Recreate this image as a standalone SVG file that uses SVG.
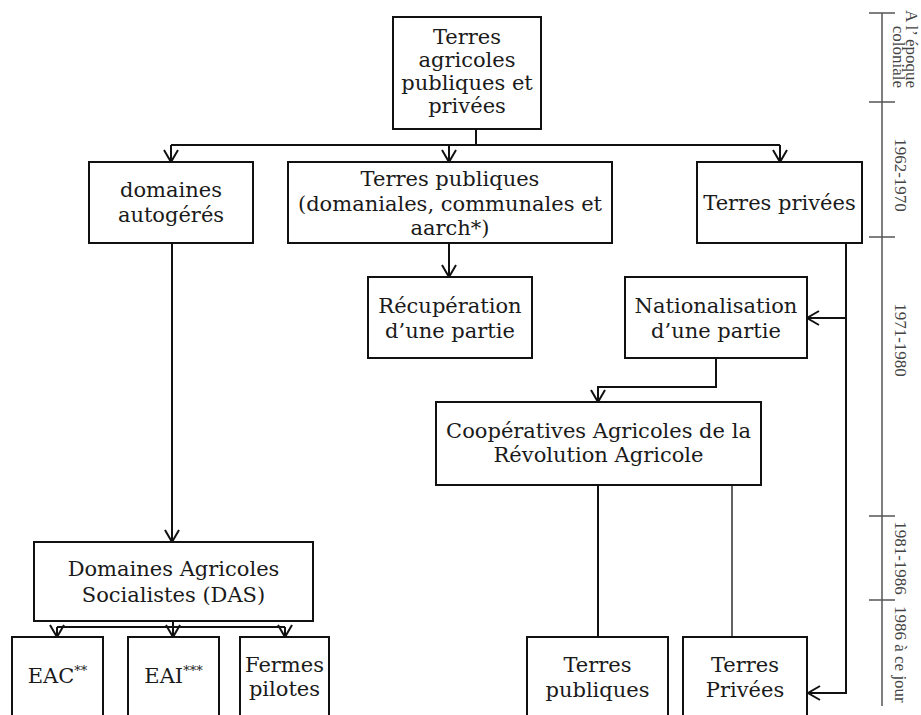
<svg xmlns="http://www.w3.org/2000/svg" width="921" height="715" viewBox="0 0 921 715">
<style>
.box{fill:#fff;stroke:#111;stroke-width:2}
.t{font-family:"DejaVu Serif","Liberation Serif",serif;font-size:21px;fill:#1a1a1a;text-anchor:middle}
.c{fill:none;stroke:#111;stroke-width:2}
.tl{fill:none;stroke:#555;stroke-width:1.5}
.lab{font-family:"Liberation Serif",serif;font-size:17px;fill:#444}
</style>
<defs>
<marker id="arr" markerUnits="userSpaceOnUse" markerWidth="16" markerHeight="16" viewBox="0 0 16 16" refX="14" refY="8" orient="auto">
<path d="M2,1 L14,8 L2,15" fill="none" stroke="#111" stroke-width="2"/>
</marker>
</defs>
<rect width="921" height="715" fill="#fff"/>
<g id="connectors">
<path class="c" d="M476,129 V145 M171,145 H780"/>
<path class="c" d="M171,145 V162" marker-end="url(#arr)"/>
<path class="c" d="M449,145 V162" marker-end="url(#arr)"/>
<path class="c" d="M780,145 V162" marker-end="url(#arr)"/>
<path class="c" d="M449,243 V277" marker-end="url(#arr)"/>
<path class="c" d="M846,243 V693 H808" marker-end="url(#arr)"/>
<path class="c" d="M846,318 H807" marker-end="url(#arr)"/>
<path class="c" d="M716,358 V387 H598 V402" marker-end="url(#arr)"/>
<path class="c" d="M598,485 V637"/>
<path class="c" d="M732,485 V637" style="stroke-width:1.3"/>
<path class="c" d="M172,243 V542" marker-end="url(#arr)"/>
<path class="c" d="M173,621 V627 M57,627 H285"/>
<path class="c" d="M57,627 V637" marker-end="url(#arr)"/>
<path class="c" d="M173,627 V637" marker-end="url(#arr)"/>
<path class="c" d="M285,627 V637" marker-end="url(#arr)"/>
</g>
<g id="n-top"><rect class="box" x="393" y="17" width="148" height="112"/>
<text class="t" x="467" y="44">Terres</text><text class="t" x="467" y="67">agricoles</text><text class="t" x="467" y="90">publiques et</text><text class="t" x="467" y="113">privées</text></g>
<g id="n-domaines"><rect class="box" x="89" y="162" width="164" height="81"/>
<text class="t" x="171" y="197">domaines</text><text class="t" x="171" y="222">autogérés</text></g>
<g id="n-publiques"><rect class="box" x="288" y="162" width="324" height="81"/>
<text class="t" x="450" y="186">Terres publiques</text><text class="t" x="450" y="211">(domaniales, communales et</text><text class="t" x="450" y="235">aarch*)</text></g>
<g id="n-privees"><rect class="box" x="697" y="162" width="165" height="81"/>
<text class="t" x="779.5" y="210">Terres privées</text></g>
<g id="n-recuperation"><rect class="box" x="368" y="277" width="164" height="81"/>
<text class="t" x="450" y="313">Récupération</text><text class="t" x="450" y="338">d’une partie</text></g>
<g id="n-nationalisation"><rect class="box" x="625" y="277" width="182" height="81"/>
<text class="t" x="716" y="313">Nationalisation</text><text class="t" x="716" y="338">d’une partie</text></g>
<g id="n-capra"><rect class="box" x="436" y="402" width="325" height="83"/>
<text class="t" x="598.5" y="438">Coopératives Agricoles de la</text><text class="t" x="598.5" y="462">Révolution Agricole</text></g>
<g id="n-das"><rect class="box" x="34" y="542" width="279" height="79"/>
<text class="t" x="173.5" y="576">Domaines Agricoles</text><text class="t" x="173.5" y="602">Socialistes (DAS)</text></g>
<g id="n-eac"><rect class="box" x="12" y="637" width="91" height="90"/>
<text class="t" x="57.5" y="683">EAC<tspan font-size="13" dy="-8">**</tspan></text></g>
<g id="n-eai"><rect class="box" x="128" y="637" width="91" height="90"/>
<text class="t" x="173.5" y="683">EAI<tspan font-size="13" dy="-8">***</tspan></text></g>
<g id="n-fermes"><rect class="box" x="240" y="637" width="89" height="90"/>
<text class="t" x="284.5" y="672">Fermes</text><text class="t" x="284.5" y="696">pilotes</text></g>
<g id="n-tpub"><rect class="box" x="527" y="637" width="141" height="90"/>
<text class="t" x="597.5" y="672">Terres</text><text class="t" x="597.5" y="697">publiques</text></g>
<g id="n-tpriv"><rect class="box" x="683" y="637" width="124" height="90"/>
<text class="t" x="745" y="672">Terres</text><text class="t" x="745" y="697">Privées</text></g>
<g id="timeline">
<path class="tl" d="M882,13 V706 M869,13 H895 M869,102 H895 M869,237 H895 M869,516 H895 M869,600 H895"/>
<text class="lab" text-anchor="end" transform="translate(906,88) rotate(90)">A l’ époque</text>
<text class="lab" text-anchor="end" transform="translate(893,88) rotate(90)">coloniale</text>
<text class="lab" text-anchor="middle" transform="translate(895,175) rotate(90)">1962-1970</text>
<text class="lab" text-anchor="middle" transform="translate(895,340) rotate(90)">1971-1980</text>
<text class="lab" text-anchor="middle" transform="translate(895,558) rotate(90)">1981-1986</text>
<text class="lab" text-anchor="start" transform="translate(895,606) rotate(90)">1986 à ce jour</text>
</g>
</svg>
